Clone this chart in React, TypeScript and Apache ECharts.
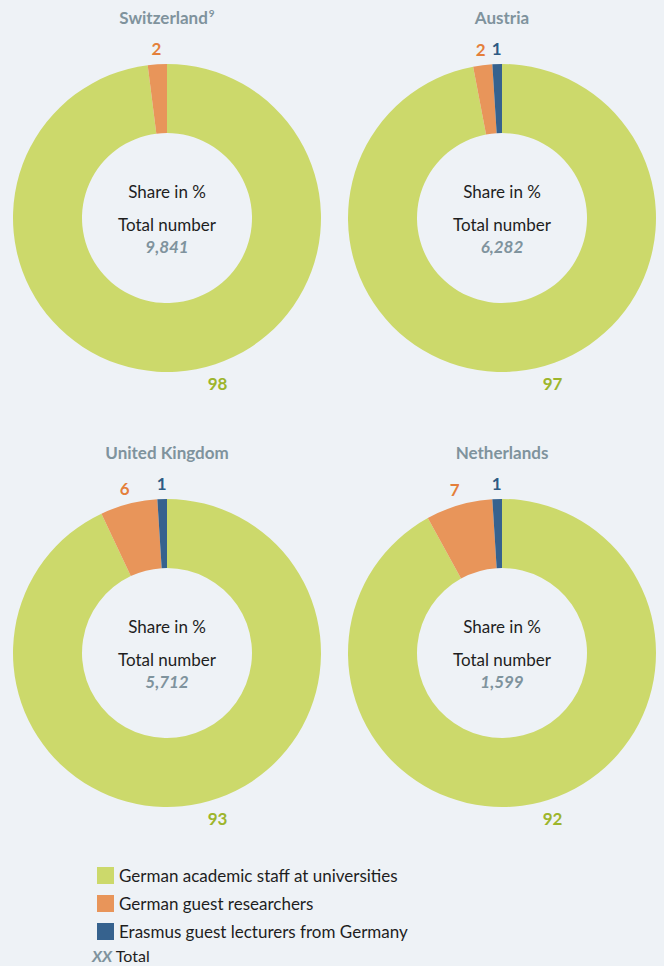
import React, { useEffect, useRef } from "react";
import * as echarts from "echarts";

const countries = ["Switzerland", "Austria", "United Kingdom", "Netherlands"];
const footnotes = ["9", "", "", ""];
const categories = [
  "German academic staff at universities",
  "German guest researchers",
  "Erasmus guest lecturers from Germany",
];
const staffShare = [98, 97, 93, 92];
const researcherShare = [2, 2, 6, 7];
const erasmusShare = [0, 1, 1, 1];
const totals = ["9,841", "6,282", "5,712", "1,599"];

const colors = ["#ccd96b", "#e8955a", "#36628e"];
const labelColors = ["#9db52b", "#e47f3a", "#2e5b84"];
const FONT = "Lato, 'Noto Sans', sans-serif";
const BG = "#eef2f6";
const GREY = "#7f939d";

const centers: [number, number][] = [
  [167, 218],
  [502, 218],
  [167, 653],
  [502, 653],
];
const R0 = 85;
const R1 = 154;
const LABEL_R = 170;
const GREEN_LABEL_R = 173;
const GREEN_LABEL_ANGLE = 163;

export default function App() {
  const ref = useRef<HTMLDivElement>(null);
  useEffect(() => {
    if (!ref.current) return;
    const chart = echarts.init(ref.current, null, { renderer: "svg" });

    const series = countries.map((c, i) => {
      const vals = [staffShare[i], researcherShare[i], erasmusShare[i]];
      const [cx, cy] = centers[i];
      return {
        type: "pie",
        name: c,
        center: centers[i],
        radius: [R0, R1],
        startAngle: 90,
        clockwise: true,
        avoidLabelOverlap: false,
        silent: true,
        label: {
          show: true,
          position: "outside",
          fontFamily: FONT,
          fontSize: 17,
          fontWeight: "bold",
          formatter: "{c}",
        },
        labelLine: { show: false, length: 0, length2: 0 },
        labelLayout: (p: any) => {
          const k = p.dataIndex;
          let ang: number;
          let r: number;
          if (k === 0) {
            ang = GREEN_LABEL_ANGLE;
            r = GREEN_LABEL_R;
          } else {
            let start = 0;
            for (let j = 0; j < k; j++) start += vals[j];
            ang = ((start + vals[k] / 2) / 100) * 360;
            r = LABEL_R;
          }
          const a = (ang * Math.PI) / 180;
          return {
            x: cx + r * Math.sin(a),
            y: cy - r * Math.cos(a),
            align: "center",
            verticalAlign: "middle",
          };
        },
        data: categories.map((name, k) => ({
          name,
          value: vals[k],
          itemStyle: { color: colors[k], borderWidth: 0 },
          label: { color: labelColors[k], show: vals[k] > 0 },
        })),
      };
    });

    const graphics: any[] = [];
    countries.forEach((c, i) => {
      const [cx, cy] = centers[i];
      graphics.push({
        type: "text",
        x: cx,
        y: cy - 201,
        style: {
          text: footnotes[i] ? `${c}{sup|${footnotes[i]}}` : c,
          align: "center",
          verticalAlign: "middle",
          fontFamily: FONT,
          fontSize: 17,
          fontWeight: "bold",
          fill: GREY,
          rich: {
            sup: {
              fontSize: 10,
              fontFamily: FONT,
              fontWeight: "bold",
              fill: GREY,
              verticalAlign: "top",
              padding: [0, 0, 8, 1],
            },
          },
        },
      });
      graphics.push({
        type: "text",
        x: cx,
        y: cy - 27,
        style: {
          text: "Share in %",
          align: "center",
          verticalAlign: "middle",
          fontFamily: FONT,
          fontSize: 17,
          fill: "#1e1e1e",
        },
      });
      graphics.push({
        type: "text",
        x: cx,
        y: cy + 6,
        style: {
          text: "Total number",
          align: "center",
          verticalAlign: "middle",
          fontFamily: FONT,
          fontSize: 17,
          fill: "#1e1e1e",
        },
      });
      graphics.push({
        type: "text",
        x: cx,
        y: cy + 28,
        style: {
          text: totals[i],
          align: "center",
          verticalAlign: "middle",
          fontFamily: FONT,
          fontSize: 17,
          fontWeight: "bold",
          fontStyle: "italic",
          fill: GREY,
        },
      });
    });
    graphics.push({
      type: "text",
      x: 92,
      y: 955,
      style: {
        text: "{xx|XX} Total",
        verticalAlign: "middle",
        fontFamily: FONT,
        fontSize: 16,
        fill: "#1e1e1e",
        rich: {
          xx: {
            fontFamily: FONT,
            fontSize: 16,
            fontWeight: "bold",
            fontStyle: "italic",
            fill: GREY,
          },
        },
      },
    });

    chart.setOption({
      animation: false,
      backgroundColor: BG,
      legend: {
        orient: "vertical",
        left: 92,
        top: 862,
        itemWidth: 17,
        itemHeight: 17,
        itemGap: 11,
        icon: "rect",
        selectedMode: false,
        data: categories,
        textStyle: {
          fontFamily: FONT,
          fontSize: 17,
          lineHeight: 17,
          color: "#1e1e1e",
        },
      },
      graphic: graphics,
      series,
    });
    return () => chart.dispose();
  }, []);
  return (
    <div
      ref={ref}
      style={{ position: "absolute", left: 0, top: 0, width: 664, height: 966 }}
    />
  );
}
